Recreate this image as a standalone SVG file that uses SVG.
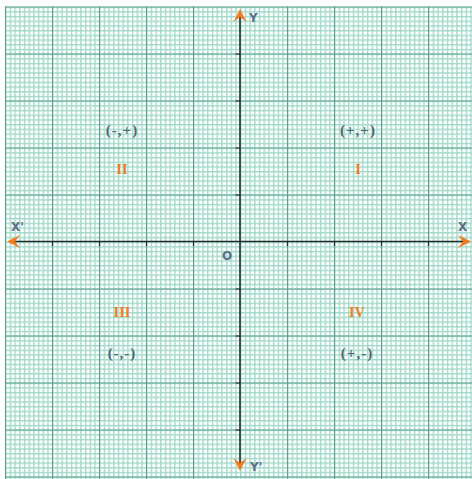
<svg xmlns="http://www.w3.org/2000/svg" width="472" height="479" viewBox="0 0 472 479">
<style>
.minor{stroke:#a3d9ca;stroke-width:1.4;fill:none}
.major{stroke:#5f9f90;stroke-width:1.1;fill:none}
.axis{stroke:#1f2b2b;stroke-width:1.6;fill:none}
.tick{stroke:#1f2b2b;stroke-width:1.2}
.arrow{fill:#f07a1e}
.coord{font-family:"Liberation Serif",serif;font-weight:bold;font-size:15px;fill:#4f6772;text-anchor:middle;letter-spacing:1px}
.roman{font-family:"Liberation Serif",serif;font-weight:bold;font-size:14.5px;fill:#ec7f26;text-anchor:middle}
.lbl{font-family:"DejaVu Sans",sans-serif;font-weight:bold;font-size:12px;fill:#5d6f86}
</style>
<defs>
<pattern id="minorGrid" patternUnits="userSpaceOnUse" x="5" y="6.5" width="4.7" height="4.7">
<path class="minor" d="M0.7 0V4.7M0 0.7H4.7"/>
</pattern>
</defs>
<rect x="0" y="0" width="472" height="479" fill="#ffffff"/>
<g id="grid">
<rect x="5" y="6.5" width="467" height="472.5" fill="url(#minorGrid)"/>
<path class="major" d="M5.5 6.5V479M52.5 6.5V479M99.5 6.5V479M146.5 6.5V479M193.5 6.5V479M287.5 6.5V479M334.5 6.5V479M381.5 6.5V479M428.5 6.5V479"/>
<path class="major" d="M5 7H472M5 54H472M5 101H472M5 148H472M5 195H472M5 289H472M5 336H472M5 383H472M5 430H472M5 477H472"/>
</g>
<g id="connectors">
<g id="x-axis">
<path class="axis" d="M10 241.5H469"/>
<path class="tick" d="M52.5 241.5V246M99.5 241.5V246M146.5 241.5V246M193.5 241.5V246M287.5 241.5V246M334.5 241.5V246M381.5 241.5V246M428.5 241.5V246"/>
<polygon class="arrow" points="7,241.5 20,235 15,241.5 20,248"/>
<polygon class="arrow" points="471,241.5 458,235 463,241.5 458,248"/>
</g>
<g id="y-axis">
<path class="axis" d="M240 12V468"/>
<path class="tick" d="M235.5 54H240M235.5 101H240M235.5 148H240M235.5 195H240M235.5 289H240M235.5 336H240M235.5 383H240M235.5 430H240"/>
<polygon class="arrow" points="240,9 233.5,22 240,17 246.5,22"/>
<polygon class="arrow" points="240,471 233.5,458 240,463 246.5,458"/>
</g>
</g>
<g id="label-Y"><text class="lbl" x="249" y="22">Y</text></g>
<g id="label-Y2"><text class="lbl" x="250" y="471">Y'</text></g>
<g id="label-X"><text class="lbl" x="458" y="231">X</text></g>
<g id="label-X2"><text class="lbl" x="11" y="231">X'</text></g>
<g id="label-O"><text class="lbl" x="222" y="260" font-size="13">O</text></g>
<g id="quadrant-II">
<text class="coord" x="122" y="135">(-,+)</text>
<text class="roman" x="122" y="174">II</text>
</g>
<g id="quadrant-I">
<text class="coord" x="358" y="135">(+,+)</text>
<text class="roman" x="358" y="174">I</text>
</g>
<g id="quadrant-III">
<text class="coord" x="122" y="358">(-,-)</text>
<text class="roman" x="122" y="317">III</text>
</g>
<g id="quadrant-IV">
<text class="coord" x="357" y="358">(+,-)</text>
<text class="roman" x="357" y="317">IV</text>
</g>
</svg>
